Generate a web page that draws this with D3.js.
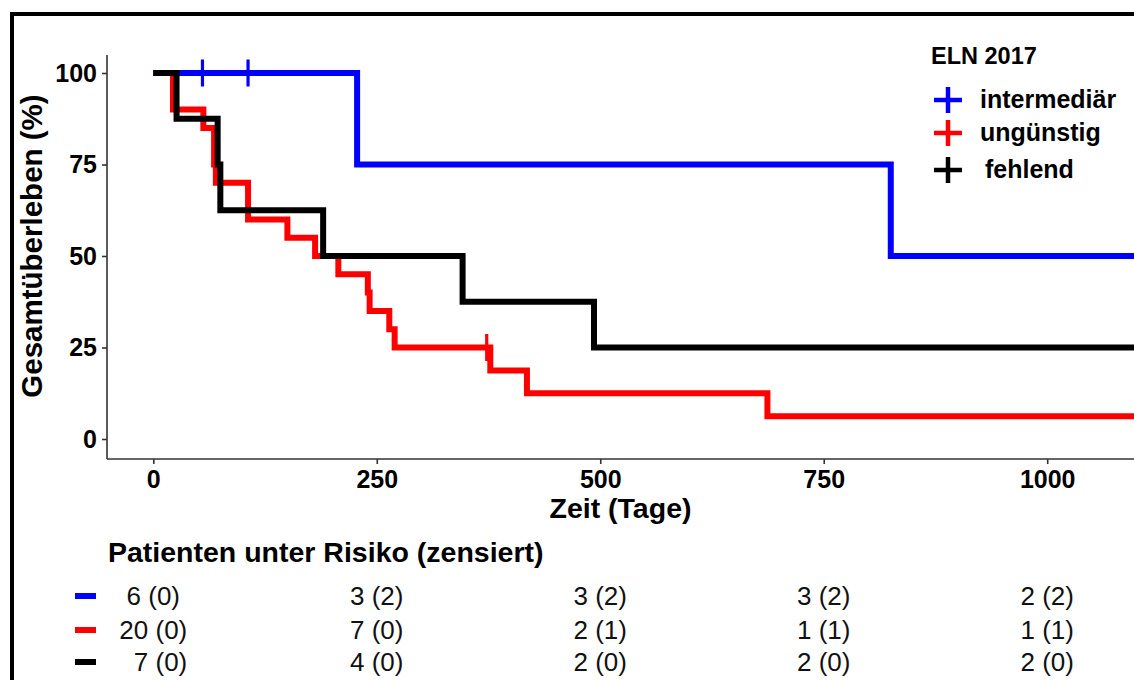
<!DOCTYPE html>
<html>
<head>
<meta charset="utf-8">
<script src="https://cdn.jsdelivr.net/npm/d3@7"></script>
<style>
  html, body { margin: 0; padding: 0; background: #fff; }
  svg { display: block; font-family: "Liberation Sans", Arial, sans-serif; }
</style>
</head>
<body>
<svg id="chart" width="1134" height="680"></svg>
<script>
// ---------------- DATA ----------------
const groupNames = ["intermediär", "ungünstig", "fehlend"];
const groupColors = ["#0000ff", "#ff0000", "#000000"];

// step times (days) and survival (%) after each step
const intermediarTime = [0, 228, 825];
const intermediarSurv = [100, 75, 50];
const intermediarCensor = [55, 106];

const ungunstigTime = [0, 22, 56, 68, 70, 106, 150, 181, 207, 240, 242, 264, 270, 377, 418, 687];
const ungunstigSurv = [100, 90, 85, 75, 70, 60, 55, 50, 45, 40, 35, 30, 25, 18.75, 12.5, 6.25];
const ungunstigCensor = [373];

const fehlendTime = [0, 26, 72, 75, 190, 346, 493];
const fehlendSurv = [100, 87.5, 75, 62.5, 50, 37.5, 25];
const fehlendCensor = [];

const endTime = 1110;

const xTicks = [0, 250, 500, 750, 1000];
const yTicks = [0, 25, 50, 75, 100];

const riskTitle = "Patienten unter Risiko (zensiert)";
const riskIntermediar = ["6 (0)", "3 (2)", "3 (2)", "3 (2)", "2 (2)"];
const riskUngunstig = ["20 (0)", "7 (0)", "2 (1)", "1 (1)", "1 (1)"];
const riskFehlend = ["\u20077 (0)", "4 (0)", "2 (0)", "2 (0)", "2 (0)"];

const legendTitle = "ELN 2017";
const xTitle = "Zeit (Tage)";
const yTitle = "Gesamtüberleben (%)";

// ---------------- LAYOUT ----------------
const svg = d3.select("#chart");
const panel = { left: 107, right: 1134, top: 55, bottom: 459 };

const x = d3.scaleLinear().domain([0, 1000]).range([153.3, 1047.2]);
const y = d3.scaleLinear().domain([0, 100]).range([439, 73]);

// outer frame (top + left visible)
svg.append("path")
  .attr("d", `M12,680 L12,14 L1134,14`)
  .attr("fill", "none").attr("stroke", "#000").attr("stroke-width", 4);

// axes
const axisColor = "#333";
const xAxis = svg.append("g").attr("transform", `translate(0,${panel.bottom})`)
  .call(d3.axisBottom(x).tickValues(xTicks).tickSize(5).tickPadding(6).tickFormat(d3.format("d")));
const yAxis = svg.append("g").attr("transform", `translate(${panel.left},0)`)
  .call(d3.axisLeft(y).tickValues(yTicks).tickSize(5).tickPadding(5).tickFormat(d3.format("d")));
[xAxis, yAxis].forEach(g => {
  g.select(".domain").remove();
  g.selectAll(".tick line").attr("stroke", axisColor).attr("stroke-width", 1.6);
  g.selectAll(".tick text").attr("fill", "#000").style("font-size", "25px").style("font-weight", "bold")
    .style("font-family", '"Liberation Sans", Arial, sans-serif');
});
xAxis.selectAll(".tick text").attr("dy", "0.71em");
// axis lines
svg.append("line").attr("x1", panel.left).attr("x2", panel.left).attr("y1", panel.top).attr("y2", panel.bottom)
  .attr("stroke", axisColor).attr("stroke-width", 1.6);
svg.append("line").attr("x1", panel.left).attr("x2", panel.right).attr("y1", panel.bottom).attr("y2", panel.bottom)
  .attr("stroke", axisColor).attr("stroke-width", 1.6);

// axis titles
svg.append("text").attr("x", (panel.left + panel.right) / 2).attr("y", 518)
  .attr("text-anchor", "middle").style("font-size", "28.5px").style("font-weight", "bold").text(xTitle);
svg.append("text").attr("transform", `translate(42,${(panel.top + panel.bottom) / 2 - 11}) rotate(-90)`)
  .attr("text-anchor", "middle").style("font-size", "29.5px").style("font-weight", "bold").text(yTitle);

// ---------------- CURVES ----------------
const series = [
  { t: intermediarTime, s: intermediarSurv, c: intermediarCensor },
  { t: ungunstigTime, s: ungunstigSurv, c: ungunstigCensor },
  { t: fehlendTime, s: fehlendSurv, c: fehlendCensor }
];
const line = d3.line().x(d => x(d[0])).y(d => y(d[1])).curve(d3.curveStepAfter);

svg.append("clipPath").attr("id", "clip").append("rect")
  .attr("x", panel.left).attr("y", panel.top - 20).attr("width", panel.right - panel.left).attr("height", panel.bottom - panel.top + 20);

const plot = svg.append("g").attr("clip-path", "url(#clip)");
series.forEach((sr, i) => {
  const pts = sr.t.map((t, k) => [t, sr.s[k]]);
  pts.push([endTime, sr.s[sr.s.length - 1]]);
  plot.append("path").attr("d", line(pts)).attr("fill", "none")
    .attr("stroke", groupColors[i]).attr("stroke-width", 6).attr("stroke-linejoin", "miter");
  // censor marks
  sr.c.forEach(ct => {
    const idx = d3.bisectRight(sr.t, ct) - 1;
    const sv = sr.s[idx];
    const cx = x(ct), cy = y(sv);
    plot.append("path").attr("d", `M${cx},${cy - 13.5}V${cy + 13.5}M${cx - 4},${cy}H${cx + 4}`)
      .attr("stroke", groupColors[i]).attr("stroke-width", 3.2).attr("fill", "none");
  });
});

// ---------------- LEGEND ----------------
svg.append("text").attr("x", 931).attr("y", 64).style("font-size", "23.5px").style("font-weight", "bold").text(legendTitle);
const legY = [100, 133, 170];
const legLabelX = [980, 980, 985];
groupNames.forEach((name, i) => {
  const cx = 948, cy = legY[i];
  svg.append("path").attr("d", `M${cx},${cy - 13}V${cy + 13}M${cx - 14},${cy}H${cx + 14}`)
    .attr("stroke", groupColors[i]).attr("stroke-width", 4.5).attr("fill", "none");
  svg.append("text").attr("x", legLabelX[i]).attr("y", cy + 8).style("font-size", "25px").style("font-weight", "bold").text(name);
});

// ---------------- RISK TABLE ----------------
svg.append("text").attr("x", 108).attr("y", 562).style("font-size", "28.5px").style("font-weight", "bold").text(riskTitle);
const riskRows = [riskIntermediar, riskUngunstig, riskFehlend];
const rowY = [596, 630, 662];
riskRows.forEach((row, i) => {
  svg.append("rect").attr("x", 75).attr("y", rowY[i] - 3).attr("width", 21).attr("height", 6).attr("fill", groupColors[i]);
  row.forEach((txt, j) => {
    svg.append("text").attr("x", x(xTicks[j])).attr("y", rowY[i] + 9)
      .attr("text-anchor", "middle").style("font-size", "26px").style("fill", "#111").text(txt);
  });
});
</script>
</body>
</html>
